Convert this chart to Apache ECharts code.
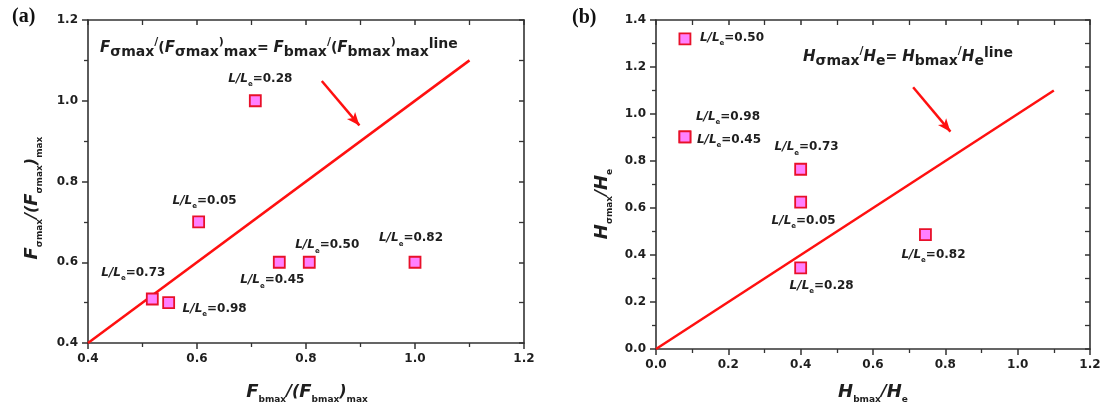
<!DOCTYPE html>
<html>
<head>
<meta charset="utf-8">
<script src="https://cdn.jsdelivr.net/npm/echarts@6/dist/echarts.min.js"></script>
<style>
  html, body { margin: 0; padding: 0; background: #ffffff; }
  #chart { width: 1115px; height: 414px; }
</style>
</head>
<body>
<div id="chart"></div>
<script>
// ---- Panel (a): normalised peak forces ----
const ratiosA = ['0.28', '0.05', '0.45', '0.50', '0.82', '0.73', '0.98'];
const fbNormA = [0.707, 0.603, 0.751, 0.806, 1.0, 0.518, 0.548];
const fsNormA = [1.0, 0.70, 0.60, 0.60, 0.60, 0.509, 0.50];
const equalLineA = [[0.4, 0.4], [1.1, 1.1]];
const arrowA = [[0.829, 1.049], [0.898, 0.939]];

// ---- Panel (b): normalised peak heights ----
const ratiosB = ['0.50', '0.98', '0.45', '0.73', '0.05', '0.82', '0.28'];
const hbNormB = [0.08, 0.08, 0.08, 0.40, 0.40, 0.745, 0.40];
const hsNormB = [1.32, 0.903, 0.903, 0.765, 0.625, 0.487, 0.345];
const equalLineB = [[0, 0], [1.1, 1.1]];
const arrowB = [[0.711, 1.114], [0.814, 0.925]];

// axis ranges
const rangeAx = [0.4, 1.2], rangeAy = [0.4, 1.2];
const rangeBx = [0.0, 1.2], rangeBy = [0.0, 1.4];
const tickStep = 0.2;

// label placement (pixel offsets from each marker)
const labelOffsetA = {
  '0.28': [5, -22], '0.05': [6, -21], '0.45': [-7, 18], '0.50': [18, -17],
  '0.82': [-4, -24], '0.73': [-19, -26], '0.98': [46, 6]
};
const labelOffsetB = {
  '0.50': [47, -1], '0.98': [43, -20], '0.45': [44, 3], '0.73': [6, -22],
  '0.05': [3, 19], '0.82': [8, 20], '0.28': [21, 18]
};

const RED = '#ff1010';
const INK = '#1e1e1e';
const AXIS = '#333333';
const SANS = 'DejaVu Sans';

const chart = echarts.init(document.getElementById('chart'), null, { renderer: 'canvas' });

function mainAxis(gridIndex, range, position) {
  return {
    type: 'value', gridIndex, min: range[0], max: range[1], interval: tickStep,
    position,
    axisLine: { show: true, onZero: false, lineStyle: { color: AXIS, width: 1.6 } },
    axisTick: { show: true, inside: false, length: 6, lineStyle: { color: AXIS, width: 1.5 } },
    minorTick: { show: true, splitNumber: 2, length: 4, lineStyle: { color: AXIS, width: 1.3 } },
    splitLine: { show: false },
    axisLabel: {
      formatter: v => v.toFixed(1), fontFamily: SANS, fontWeight: 'bold',
      fontSize: 12, color: INK, margin: 10
    }
  };
}
function mirrorAxis(gridIndex, range, position) {
  return {
    type: 'value', gridIndex, min: range[0], max: range[1], interval: tickStep,
    position,
    axisLine: { show: true, onZero: false, lineStyle: { color: AXIS, width: 1.6 } },
    axisTick: { show: true, inside: true, length: 5, lineStyle: { color: AXIS, width: 1.5 } },
    minorTick: { show: true, splitNumber: 2, length: 5, lineStyle: { color: AXIS, width: 1.3 } },
    splitLine: { show: false },
    axisLabel: { show: false }
  };
}

const pointRich = {
  i: { fontFamily: SANS, fontWeight: 'bold', fontStyle: 'italic', fontSize: 12, color: INK, lineHeight: 18 },
  e: { fontFamily: SANS, fontWeight: 'bold', fontSize: 7, color: INK, lineHeight: 9, verticalAlign: 'bottom' },
  n: { fontFamily: SANS, fontWeight: 'bold', fontSize: 12, color: INK, lineHeight: 18 }
};

function scatterData(xs, ys, names, offsets) {
  return xs.map((x, k) => ({
    name: names[k],
    value: [x, ys[k]],
    label: { offset: offsets[names[k]] }
  }));
}

function markerSeries(idx, data) {
  return {
    type: 'scatter', xAxisIndex: idx, yAxisIndex: idx, z: 5,
    symbol: 'rect', symbolSize: 11,
    itemStyle: { color: '#ff80ff', borderColor: '#e8102a', borderWidth: 1.8, opacity: 1 },
    label: {
      show: true, position: 'inside',
      formatter: p => `{i|L/L}{e|e}{n|=${p.name}}`,
      rich: pointRich
    },
    emphasis: { disabled: true },
    data
  };
}

function equalitySeries(idx, pts, arrow) {
  return {
    type: 'line', xAxisIndex: idx, yAxisIndex: idx, z: 3,
    data: pts, symbol: 'none',
    lineStyle: { color: RED, width: 2.5 },
    markLine: {
      silent: true, symbol: ['none', 'arrow'], symbolSize: [8, 13],
      label: { show: false },
      lineStyle: { color: RED, width: 2.5, type: 'solid' },
      data: [[{ coord: arrow[0] }, { coord: arrow[1] }]]
    }
  };
}

// token style for graphic rich text; an explicit font string keeps measuring and drawing consistent
function tok(size, italic, lineHeight, valign) {
  return {
    font: `${italic ? 'italic ' : ''}bold ${size}px "${SANS}"`,
    fill: INK, lineHeight, verticalAlign: valign
  };
}
// formula annotation: F big, subscripts lowered, small raised slashes, raised "line"
const formulaRich = {
  F: tok(15, true, 22, 'middle'),
  n: tok(14, false, 22, 'middle'),
  s: tok(14, false, 16, 'bottom'),
  p: tok(11, false, 13, 'top'),
  q: tok(14, false, 15, 'top')
};
// axis titles: italic symbol with small, low subscripts
const titleRich = {
  F: tok(18, true, 24, 'middle'),
  n: tok(16, true, 24, 'middle'),
  s: tok(9, false, 12, 'bottom')
};

const graphics = [
  { type: 'text', x: 12, y: 17, style: { text: '(a)', font: 'bold 20px "Liberation Serif"', fill: '#111', align: 'left', verticalAlign: 'middle' } },
  { type: 'text', x: 572, y: 18, style: { text: '(b)', font: 'bold 20px "Liberation Serif"', fill: '#111', align: 'left', verticalAlign: 'middle' } },
  {
    type: 'text', x: 100, y: 48,
    style: {
      text: '{F|F}{s|σmax}{p|/}{n|(}{F|F}{s|σmax}{p|)}{s|max}{n|= }{F|F}{s|bmax}{p|/}{n|(}{F|F}{s|bmax}{p|)}{s|max}{q|line}',
      rich: formulaRich, align: 'left', verticalAlign: 'middle'
    }
  },
  {
    type: 'text', x: 803, y: 57,
    style: {
      text: '{F|H}{s|σmax}{p|/}{F|H}{s|e}{n|= }{F|H}{s|bmax}{p|/}{F|H}{s|e}{q|line}',
      rich: formulaRich, align: 'left', verticalAlign: 'middle'
    }
  },
  // axis titles
  {
    type: 'text', x: 307, y: 392,
    style: { text: '{F|F}{s|bmax}{n|/(}{F|F}{s|bmax}{n|)}{s|max}', rich: titleRich, align: 'center', verticalAlign: 'middle' }
  },
  {
    type: 'text', x: 873, y: 392,
    style: { text: '{F|H}{s|bmax}{n|/}{F|H}{s|e}', rich: titleRich, align: 'center', verticalAlign: 'middle' }
  },
  {
    type: 'text', x: 32, y: 198, rotation: Math.PI / 2,
    style: { text: '{F|F}{s|σmax}{n|/(}{F|F}{s|σmax}{n|)}{s|max}', rich: titleRich, align: 'center', verticalAlign: 'middle' }
  },
  {
    type: 'text', x: 602, y: 204, rotation: Math.PI / 2,
    style: { text: '{F|H}{s|σmax}{n|/}{F|H}{s|e}', rich: titleRich, align: 'center', verticalAlign: 'middle' }
  }
];

const option = {
  animation: false,
  backgroundColor: '#ffffff',
  grid: [
    { left: 88, right: 591, top: 20, bottom: 71 },
    { left: 656, right: 25, top: 20, bottom: 65 }
  ],
  xAxis: [
    mainAxis(0, rangeAx, 'bottom'), mainAxis(1, rangeBx, 'bottom'),
    mirrorAxis(0, rangeAx, 'top'), mirrorAxis(1, rangeBx, 'top')
  ],
  yAxis: [
    mainAxis(0, rangeAy, 'left'), mainAxis(1, rangeBy, 'left'),
    mirrorAxis(0, rangeAy, 'right'), mirrorAxis(1, rangeBy, 'right')
  ],
  series: [
    equalitySeries(0, equalLineA, arrowA),
    equalitySeries(1, equalLineB, arrowB),
    markerSeries(0, scatterData(fbNormA, fsNormA, ratiosA, labelOffsetA)),
    markerSeries(1, scatterData(hbNormB, hsNormB, ratiosB, labelOffsetB))
  ],
  graphic: graphics
};

chart.setOption(option);
</script>
</body>
</html>
